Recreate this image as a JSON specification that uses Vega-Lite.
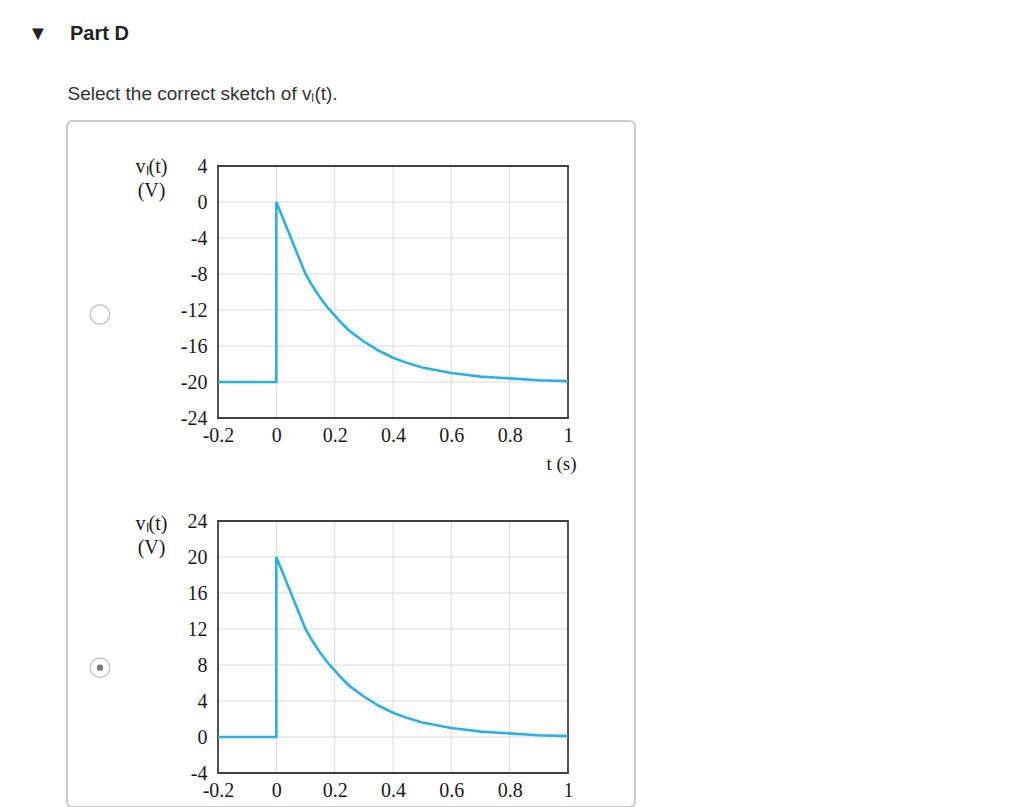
{
  "$schema": "https://vega.github.io/schema/vega-lite/v6.json",
  "width": 568,
  "height": 686,
  "autosize": {"type": "none"},
  "padding": {"left": 67, "top": 121, "right": 389, "bottom": 0},
  "background": "#ffffff",
  "title": {
    "text": "▼\u00a0\u00a0\u00a0\u00a0Part D",
    "anchor": "start",
    "frame": "group",
    "orient": "top",
    "dx": -39,
    "offset": 40,
    "font": "Liberation Sans",
    "fontSize": 20,
    "fontWeight": "bold",
    "color": "#222222"
  },
  "datasets": {
    "gx": [{"t": 0}, {"t": 0.2}, {"t": 0.4}, {"t": 0.6}, {"t": 0.8}],
    "gya": [{"v": -20}, {"v": -16}, {"v": -12}, {"v": -8}, {"v": -4}, {"v": 0}],
    "gyb": [{"v": 0}, {"v": 4}, {"v": 8}, {"v": 12}, {"v": 16}, {"v": 20}],
    "a": [
      {"i": 0, "t": -0.2, "v": -20},
      {"i": 1, "t": 0, "v": -20},
      {"i": 2, "t": 0, "v": 0},
      {"i": 3, "t": 0.1, "v": -8.0},
      {"i": 4, "t": 0.125, "v": -9.4},
      {"i": 5, "t": 0.15, "v": -10.6},
      {"i": 6, "t": 0.175, "v": -11.7},
      {"i": 7, "t": 0.2, "v": -12.6},
      {"i": 8, "t": 0.225, "v": -13.5},
      {"i": 9, "t": 0.25, "v": -14.3},
      {"i": 10, "t": 0.275, "v": -14.9},
      {"i": 11, "t": 0.3, "v": -15.5},
      {"i": 12, "t": 0.35, "v": -16.5},
      {"i": 13, "t": 0.4, "v": -17.3},
      {"i": 14, "t": 0.45, "v": -17.9},
      {"i": 15, "t": 0.5, "v": -18.4},
      {"i": 16, "t": 0.55, "v": -18.7},
      {"i": 17, "t": 0.6, "v": -19.0},
      {"i": 18, "t": 0.65, "v": -19.2},
      {"i": 19, "t": 0.7, "v": -19.4},
      {"i": 20, "t": 0.75, "v": -19.5},
      {"i": 21, "t": 0.8, "v": -19.6},
      {"i": 22, "t": 0.9, "v": -19.8},
      {"i": 23, "t": 1.0, "v": -19.9}
    ],
    "b": [
      {"i": 0, "t": -0.2, "v": 0},
      {"i": 1, "t": 0, "v": 0},
      {"i": 2, "t": 0, "v": 20},
      {"i": 3, "t": 0.1, "v": 12.0},
      {"i": 4, "t": 0.125, "v": 10.6},
      {"i": 5, "t": 0.15, "v": 9.4},
      {"i": 6, "t": 0.175, "v": 8.3},
      {"i": 7, "t": 0.2, "v": 7.4},
      {"i": 8, "t": 0.225, "v": 6.5},
      {"i": 9, "t": 0.25, "v": 5.7},
      {"i": 10, "t": 0.275, "v": 5.1},
      {"i": 11, "t": 0.3, "v": 4.5},
      {"i": 12, "t": 0.35, "v": 3.5},
      {"i": 13, "t": 0.4, "v": 2.7},
      {"i": 14, "t": 0.45, "v": 2.1},
      {"i": 15, "t": 0.5, "v": 1.6},
      {"i": 16, "t": 0.55, "v": 1.3},
      {"i": 17, "t": 0.6, "v": 1.0},
      {"i": 18, "t": 0.65, "v": 0.8},
      {"i": 19, "t": 0.7, "v": 0.6},
      {"i": 20, "t": 0.75, "v": 0.5},
      {"i": 21, "t": 0.8, "v": 0.4},
      {"i": 22, "t": 0.9, "v": 0.2},
      {"i": 23, "t": 1.0, "v": 0.1}
    ]
  },
  "layer": [
    {
      "layer": [
        {
          "data": {"name": "gx"},
          "mark": {"type": "rule", "color": "#dadada", "strokeWidth": 1},
          "encoding": {
            "x": {
              "field": "t", "type": "quantitative",
              "scale": {"domain": [-0.2, 1], "range": [151, 501], "nice": false, "zero": false},
              "axis": {
                "values": [-0.2, 0, 0.2, 0.4, 0.6, 0.8, 1],
                "offset": -389,
                "domain": false, "ticks": false, "grid": false,
                "labelPadding": 7,
                "labelFont": "Liberation Serif", "labelFontSize": 20, "labelColor": "#1a1a1a",
                "labelOverlap": false, "labelFlush": false,
                "labelExpr": "datum.value < 0 ? '-' + format(-datum.value, '~g') : format(datum.value, '~g')",
                "title": "t (s)",
                "titleFont": "Liberation Serif", "titleFontSize": 19, "titleFontWeight": "normal", "titleColor": "#1a1a1a",
                "titleAngle": 0, "titleAlign": "center", "titleBaseline": "middle",
                "titleX": 494, "titleY": 45
              }
            },
            "y": {"datum": 4},
            "y2": {"datum": -24}
          }
        },
        {
          "data": {"name": "gya"},
          "mark": {"type": "rule", "color": "#dadada", "strokeWidth": 1},
          "encoding": {
            "y": {
              "field": "v", "type": "quantitative",
              "scale": {"domain": [-24, 4], "range": [297, 45], "nice": false, "zero": false},
              "axis": {
                "values": [-24, -20, -16, -12, -8, -4, 0, 4],
                "offset": -151,
                "domain": false, "ticks": false, "grid": false,
                "labelPadding": 11,
                "labelFont": "Liberation Serif", "labelFontSize": 20, "labelColor": "#1a1a1a",
                "labelOverlap": false, "labelFlush": false,
                "labelExpr": "datum.value < 0 ? '-' + format(-datum.value, '~g') : format(datum.value, '~g')",
                "title": ["vₗ(t)", "(V)"],
                "titleFont": "Liberation Serif", "titleFontSize": 20, "titleFontWeight": "normal", "titleColor": "#1a1a1a",
                "titleAngle": 0, "titleAlign": "center", "titleBaseline": "middle", "titleLineHeight": 24,
                "titleX": -67, "titleY": 45
              }
            },
            "x": {"datum": -0.2},
            "x2": {"datum": 1}
          }
        },
        {
          "data": {"values": [{}]},
          "mark": {"type": "rect", "fillOpacity": 0, "stroke": "#404040", "strokeWidth": 1.8},
          "encoding": {
            "x": {"datum": -0.2},
            "x2": {"datum": 1},
            "y": {"datum": 4},
            "y2": {"datum": -24}
          }
        },
        {
          "data": {"name": "a"},
          "mark": {"type": "line", "color": "#2ab0e8", "strokeWidth": 2.6},
          "encoding": {
            "x": {"field": "t", "type": "quantitative"},
            "y": {"field": "v", "type": "quantitative"},
            "order": {"field": "i", "type": "quantitative"}
          }
        },
        {
          "data": {"values": [{}]},
          "mark": {"type": "point", "shape": "circle", "filled": true, "fill": "#ffffff", "stroke": "#c8c8c8", "strokeWidth": 1.5, "size": 380, "opacity": 1},
          "encoding": {
            "x": {"datum": -0.6046},
            "y": {"datum": -12.5}
          }
        }
      ]
    },
    {
      "layer": [
        {
          "data": {"name": "gx"},
          "mark": {"type": "rule", "color": "#dadada", "strokeWidth": 1},
          "encoding": {
            "x": {
              "field": "t", "type": "quantitative",
              "scale": {"domain": [-0.2, 1], "range": [151, 501], "nice": false, "zero": false},
              "axis": {
                "values": [-0.2, 0, 0.2, 0.4, 0.6, 0.8, 1],
                "orient": "bottom",
                "offset": -34,
                "domain": false, "ticks": false, "grid": false,
                "labelPadding": 7,
                "labelFont": "Liberation Serif", "labelFontSize": 20, "labelColor": "#1a1a1a",
                "labelOverlap": false, "labelFlush": false,
                "labelExpr": "datum.value < 0 ? '-' + format(-datum.value, '~g') : format(datum.value, '~g')",
                "title": "Select the correct sketch of vₗ(t).",
                "titleFont": "Liberation Sans", "titleFontSize": 19, "titleFontWeight": "normal", "titleColor": "#333333",
                "titleAngle": 0, "titleAlign": "left", "titleBaseline": "middle",
                "titleX": 0, "titleY": -680
              }
            },
            "y": {"datum": 24},
            "y2": {"datum": -4}
          }
        },
        {
          "data": {"name": "gyb"},
          "mark": {"type": "rule", "color": "#dadada", "strokeWidth": 1},
          "encoding": {
            "y": {
              "field": "v", "type": "quantitative",
              "scale": {"domain": [-4, 24], "range": [652, 400], "nice": false, "zero": false},
              "axis": {
                "values": [-4, 0, 4, 8, 12, 16, 20, 24],
                "orient": "left",
                "offset": -151,
                "domain": false, "ticks": false, "grid": false,
                "labelPadding": 11,
                "labelFont": "Liberation Serif", "labelFontSize": 20, "labelColor": "#1a1a1a",
                "labelOverlap": false, "labelFlush": false,
                "labelExpr": "datum.value < 0 ? '-' + format(-datum.value, '~g') : format(datum.value, '~g')",
                "title": ["vₗ(t)", "(V)"],
                "titleFont": "Liberation Serif", "titleFontSize": 20, "titleFontWeight": "normal", "titleColor": "#1a1a1a",
                "titleAngle": 0, "titleAlign": "center", "titleBaseline": "middle", "titleLineHeight": 24,
                "titleX": -67, "titleY": 402
              }
            },
            "x": {"datum": -0.2},
            "x2": {"datum": 1}
          }
        },
        {
          "data": {"values": [{}]},
          "mark": {"type": "rect", "fillOpacity": 0, "stroke": "#404040", "strokeWidth": 1.8},
          "encoding": {
            "x": {"datum": -0.2},
            "x2": {"datum": 1},
            "y": {"datum": 24},
            "y2": {"datum": -4}
          }
        },
        {
          "data": {"name": "b"},
          "mark": {"type": "line", "color": "#2ab0e8", "strokeWidth": 2.6},
          "encoding": {
            "x": {"field": "t", "type": "quantitative"},
            "y": {"field": "v", "type": "quantitative"},
            "order": {"field": "i", "type": "quantitative"}
          }
        },
        {
          "data": {"values": [{}]},
          "mark": {"type": "point", "shape": "circle", "filled": true, "fill": "#ffffff", "stroke": "#c8c8c8", "strokeWidth": 1.5, "size": 380, "opacity": 1},
          "encoding": {
            "x": {"datum": -0.6046},
            "y": {"datum": 7.7}
          }
        },
        {
          "data": {"values": [{}]},
          "mark": {"type": "point", "shape": "circle", "filled": true, "fill": "#7a7a7a", "strokeWidth": 0, "size": 40, "opacity": 1},
          "encoding": {
            "x": {"datum": -0.6046},
            "y": {"datum": 7.7}
          }
        }
      ]
    }
  ],
  "resolve": {
    "scale": {"y": "independent"},
    "axis": {"x": "independent", "y": "independent"}
  },
  "config": {
    "view": {"stroke": "#bdbdbd", "strokeWidth": 1.5, "cornerRadius": 5},
    "font": "Liberation Sans"
  }
}
